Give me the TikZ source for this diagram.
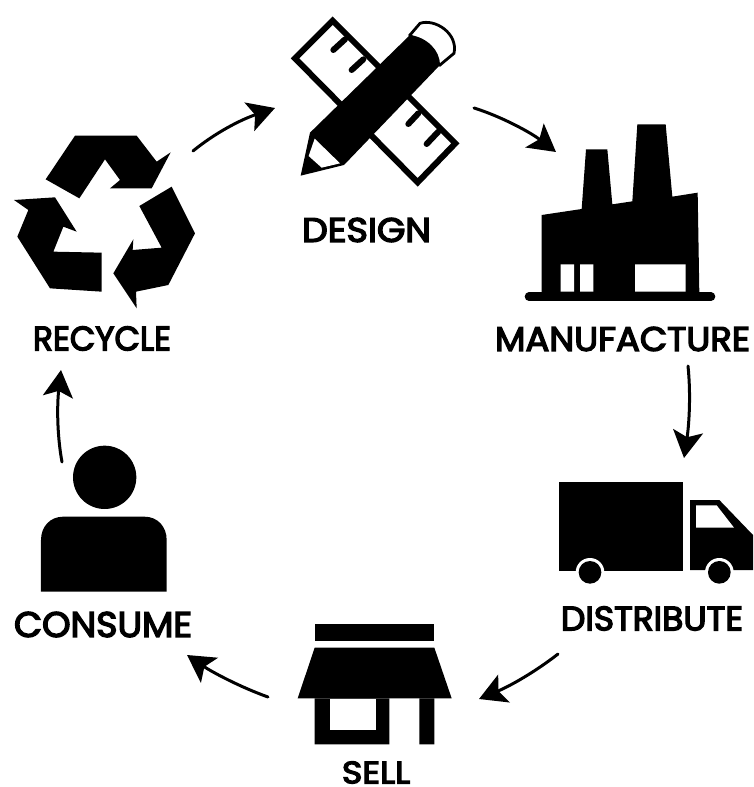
\documentclass[tikz,border=0pt]{standalone}
\usepackage{fontspec}
\usepackage{graphicx}
\setmainfont{Poppins}
\newfontfamily\labfont[FakeBold=4]{Poppins}
\usetikzlibrary{arrows.meta}
\tikzset{
  flow/.style={draw=black,line width=3pt,line cap=round,
    -{Stealth[length=27pt,width=30pt,inset=6pt]}},
  lab/.style={inner sep=0pt,outer sep=0pt,text=black,font=\labfont},
  zoomed/.style={shift={#1},scale=1/3}
}
\newcommand{\fitlabel}[3]{\resizebox{#1pt}{#2pt}{#3}}
\begin{document}
\begin{tikzpicture}[x=1pt,y=-1pt]
\useasboundingbox (0,0) rectangle (753,787);
\fill[white] (0,0) rectangle (753,787);

% DESIGN icon
\begin{scope}[zoomed={(270,0)}]
  \draw[black,line width=6pt,miter limit=10,fill=white] (188,62) -- (75,175) -- (443,547) -- (556,430) -- cycle;
  \draw[black,line width=6pt,line cap=round] (190,150) -- (225,118) (245,210) -- (280,178) (415,372) -- (445,340) (470,432) -- (505,395);
  \draw[black,line width=2.8pt,fill=white] (420,105) -- (450,70) .. controls (495,55) and (565,100) .. (552,160) -- (510,195) -- cycle;
  \fill[black] (92,527) -- (120,398) -- (420,105) .. controls (470,112) and (510,150) .. (510,195) -- (222,495) -- cycle;
  \fill[white] (134,416) -- (210,490) -- (155,503) -- (116,468) -- cycle;
\end{scope}

% MANUFACTURE icon
\begin{scope}[zoomed={(520,110)}]
  \fill[black] (65,315) -- (185,297) -- (198,118) -- (262,118) -- (277,283) -- (337,274) -- (352,43) -- (437,43) -- (457,260) -- (533,248) -- (538,550) -- (65,550) -- cycle;
  \fill[white] (122,463) rectangle (162,545) (180,463) rectangle (220,545) (345,463) rectangle (497,545);
  \draw[black,line width=8.6pt,line cap=round] (27,560) -- (573,560);
\end{scope}

% DISTRIBUTE icon
\begin{scope}[zoomed={(540,460)}]
  \fill[black] (58,66) rectangle (430,332);
  \fill[black] (450,120) -- (538,120) -- (639,225) -- (639,330) -- (450,330) -- cycle;
  \fill[white] (468,136) -- (530,136) -- (582,203) -- (468,203) -- cycle;
  \fill[white] (150,337) circle[radius=43] (538,337) circle[radius=43];
  \fill[black] (150,337) circle[radius=34] (538,337) circle[radius=34];
\end{scope}

% SELL icon
\begin{scope}[zoomed={(280,610)}]
  \fill[black] (104,43) rectangle (463,93);
  \fill[black] (104,113) -- (463,113) -- (515,265) -- (53,265) -- cycle;
  \fill[black] (104,265) rectangle (328,403) (418,265) rectangle (463,403);
  \fill[white] (150,267) rectangle (287,360);
\end{scope}

% CONSUME icon
\begin{scope}[zoomed={(0,340)}]
  \fill[black] (314,412) circle[radius=95];
  \fill[black] (123,755) -- (123,600) .. controls (123,560) and (150,530) .. (190,530) -- (433,530) .. controls (473,530) and (500,560) .. (500,600) -- (500,755) -- cycle;
\end{scope}

% RECYCLE icon
\begin{scope}[zoomed={(0,120)}]
  \fill[black] (225,47) -- (410,47) -- (470,125) -- (512,97) -- (455,205) -- (330,205) -- (360,180) -- (315,118) -- (238,235) -- (137,178) -- cycle;
  \fill[black] (42,240) -- (165,232) -- (230,335) -- (190,320) -- (160,395) -- (305,398) -- (305,515) -- (150,505) -- (52,350) -- (85,270) -- cycle;
  \fill[black] (515,200) -- (585,340) -- (505,495) -- (408,515) -- (410,565) -- (340,460) -- (400,358) -- (398,390) -- (485,383) -- (418,258) -- cycle;
\end{scope}

% Labels
\node[lab] (design) at (366.5,230) {\fitlabel{129}{24}{DESIGN}};
\node[lab] (manufacture) at (622.5,339) {\fitlabel{255}{24}{MANUFACTURE}};
\node[lab] (distribute) at (652,618.5) {\fitlabel{182}{24}{DISTRIBUTE}};
\node[lab] (sell) at (376,772.5) {\fitlabel{68}{22}{SELL}};
\node[lab] (consume) at (103,624.5) {\fitlabel{178}{25}{CONSUME}};
\node[lab] (recycle) at (102,338.5) {\fitlabel{138}{24}{RECYCLE}};

% Connector ends
\coordinate (a1s) at (193,151); \coordinate (a1e) at (275,108);
\coordinate (a2s) at (474,108); \coordinate (a2e) at (556,152);
\coordinate (a3s) at (688,366); \coordinate (a3e) at (684,458);
\coordinate (a4s) at (558,654); \coordinate (a4e) at (479,699);
\coordinate (a5s) at (268,697); \coordinate (a5e) at (187,655);
\coordinate (a6s) at (62,462);  \coordinate (a6e) at (61,370);

\draw[flow] (a1s) .. controls (215,133) and (240,120) .. (a1e);
\draw[flow] (a2s) .. controls (500,116) and (530,132) .. (a2e);
\draw[flow] (a3s) .. controls (691,395) and (689,425) .. (a3e);
\draw[flow] (a4s) .. controls (535,672) and (510,686) .. (a4e);
\draw[flow] (a5s) .. controls (240,687) and (212,672) .. (a5e);
\draw[flow] (a6s) .. controls (57,435) and (57,405) .. (a6e);
\end{tikzpicture}
\end{document}
